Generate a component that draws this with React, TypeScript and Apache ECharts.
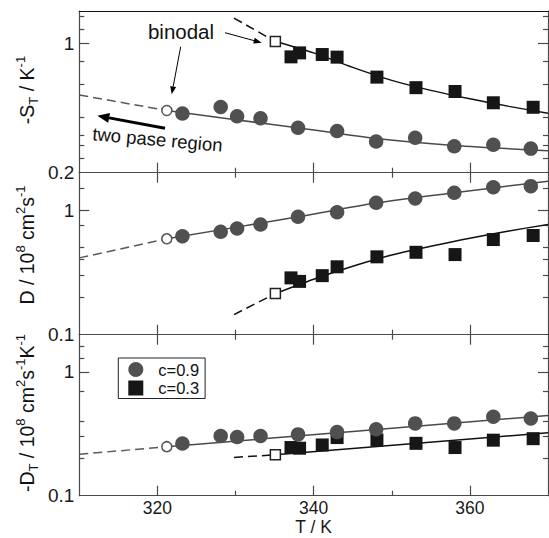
import React, { useEffect, useRef } from 'react';
import * as echarts from 'echarts';

const FONT = '"Liberation Sans", Arial, Helvetica, sans-serif';

// ---------- axes ----------
const X_MIN = 310;
const X_MAX = 370;
const X_MAJOR = [320, 340, 360];
const X_MINOR = [330, 350];

const Y_RANGE_ST = [0.2, 1.5];
const Y_RANGE_D = [0.1, 2];
const Y_RANGE_DT = [0.1, 2];
const Y_LABELS_ST = [0.2, 1];
const Y_LABELS_D = [0.1, 1];
const Y_LABELS_DT = [0.1, 1];
const Y_MAJOR = [1];
const Y_MINOR_ST = [0.24, 0.28, 0.32, 0.4, 0.6, 0.8, 1.2, 1.4];
const Y_MINOR_D = [0.2, 0.3, 0.4, 0.5, 0.75, 1.5];
const Y_MINOR_DT = [0.2, 0.3, 0.4, 0.7, 1.3, 1.6];

// ---------- data: temperatures (K) ----------
const T_C = [323.2, 328.1, 330.2, 333.2, 338.0, 343.0, 348.0, 353.0, 358.0, 363.0, 367.8];
const T_S = [337.1, 338.2, 341.1, 343.0, 348.1, 353.1, 358.1, 363.0, 368.1];
const T_BIN_C = 321.2;
const T_BIN_S = 335.1;

// ---------- -S_T / K^-1 ----------
const ST_C = [0.418, 0.454, 0.404, 0.394, 0.35, 0.336, 0.295, 0.309, 0.278, 0.283, 0.27];
const ST_S = [0.847, 0.89, 0.872, 0.844, 0.658, 0.577, 0.55, 0.478, 0.452];
const ST_BIN_C = 0.434;
const ST_BIN_S = 1.026;
const ST_FIT_C_DASH = [[310, 0.527], [321.2, 0.434]];
const ST_FIT_C = [[321.2, 0.434], [330, 0.387], [338.4, 0.348], [348, 0.306], [358, 0.281], [370, 0.263]];
const ST_FIT_S_DASH = [[329.8, 1.373], [335.1, 1.026]];
const ST_FIT_S = [[335.1, 1.026], [340, 0.89], [345, 0.743], [350, 0.632], [355, 0.558], [360, 0.502], [365, 0.457], [370, 0.42]];

// ---------- D / 10^8 cm^2 s^-1 ----------
const D_C = [0.618, 0.67, 0.713, 0.767, 0.885, 0.963, 1.147, 1.242, 1.38, 1.53, 1.56];
const D_S = [0.286, 0.268, 0.298, 0.351, 0.422, 0.459, 0.44, 0.581, 0.626];
const D_BIN_C = 0.589;
const D_BIN_S = 0.214;
const D_FIT_C_DASH = [[310, 0.414], [321.2, 0.589]];
const D_FIT_C = [[321.2, 0.589], [338, 0.885], [348, 1.14], [358, 1.38], [370, 1.71]];
const D_FIT_S_DASH = [[329.8, 0.145], [335.1, 0.214]];
const D_FIT_S = [[335.1, 0.214], [340, 0.279], [345, 0.355], [350, 0.437], [355, 0.513], [360, 0.596], [365, 0.681], [370, 0.767]];

// ---------- -D_T / 10^8 cm^2 s^-1 K^-1 ----------
const DT_C = [0.264, 0.304, 0.298, 0.304, 0.313, 0.327, 0.344, 0.384, 0.384, 0.435, 0.421];
const DT_S = [0.245, 0.242, 0.257, 0.295, 0.282, 0.265, 0.245, 0.281, 0.289];
const DT_BIN_C = 0.249;
const DT_BIN_S = 0.214;
const DT_FIT_C_DASH = [[310, 0.216], [321.2, 0.249]];
const DT_FIT_C = [[321.2, 0.249], [345, 0.33], [370, 0.445]];
const DT_FIT_S_DASH = [[329.8, 0.204], [335.1, 0.214]];
const DT_FIT_S = [[335.1, 0.214], [370, 0.323]];

const LEGEND_C = 'c=0.9';
const LEGEND_S = 'c=0.3';

// ---------- layout / style ----------
const GRID_TOPS = [11, 172.7, 334.7];
const GRID_HEIGHTS = [161.7, 162, 161];
const GRID_LEFT = 79.3;
const GRID_RIGHT = 1;

const C_GRAY = '#505050';
const C_BLACK = '#161616';
const AX_COLOR = '#4a4a4a';

const panels = [
  { range: Y_RANGE_ST, labels: Y_LABELS_ST, minor: Y_MINOR_ST, c: ST_C, s: ST_S, binC: ST_BIN_C, binS: ST_BIN_S, fcd: ST_FIT_C_DASH, fc: ST_FIT_C, fsd: ST_FIT_S_DASH, fs: ST_FIT_S },
  { range: Y_RANGE_D, labels: Y_LABELS_D, minor: Y_MINOR_D, c: D_C, s: D_S, binC: D_BIN_C, binS: D_BIN_S, fcd: D_FIT_C_DASH, fc: D_FIT_C, fsd: D_FIT_S_DASH, fs: D_FIT_S },
  { range: Y_RANGE_DT, labels: Y_LABELS_DT, minor: Y_MINOR_DT, c: DT_C, s: DT_S, binC: DT_BIN_C, binS: DT_BIN_S, fcd: DT_FIT_C_DASH, fc: DT_FIT_C, fsd: DT_FIT_S_DASH, fs: DT_FIT_S },
];

function arrow(x1: number, y1: number, x2: number, y2: number, w: number, hl: number, hw: number) {
  const dx = x2 - x1, dy = y2 - y1;
  const len = Math.sqrt(dx * dx + dy * dy);
  const ux = dx / len, uy = dy / len;
  const bx = x2 - ux * hl, by = y2 - uy * hl;
  const px = -uy * hw, py = ux * hw;
  return [
    { type: 'line', silent: true, shape: { x1, y1, x2: bx, y2: by }, style: { stroke: '#000', lineWidth: w } },
    { type: 'polygon', silent: true, shape: { points: [[x2, y2], [bx + px, by + py], [bx - px, by - py]] }, style: { fill: '#000' } },
  ];
}

const RICH = {
  a: { fontSize: 19.5, fontFamily: FONT, fill: '#111', lineHeight: 26 },
  sup: { fontSize: 13, fontFamily: FONT, fill: '#111', lineHeight: 13, verticalAlign: 'top' },
  sub: { fontSize: 13, fontFamily: FONT, fill: '#111', lineHeight: 13, verticalAlign: 'bottom' },
};

function buildOption() {
  const grid: any[] = [];
  const xAxis: any[] = [];
  const yAxis: any[] = [];
  const series: any[] = [];

  panels.forEach((p, i) => {
    grid.push({ left: GRID_LEFT, right: GRID_RIGHT, top: GRID_TOPS[i], height: GRID_HEIGHTS[i], outerBoundsMode: 'none', containLabel: false });
    const isBottom = i === 2;
    const baseX = {
      type: 'value', gridIndex: i, min: X_MIN, max: X_MAX,
      splitLine: { show: false },
      axisLine: { show: false, onZero: false },
      axisLabel: { show: false },
    };
    xAxis.push({
      ...baseX, position: 'bottom',
      axisLine: { show: true, onZero: false, lineStyle: { color: AX_COLOR, width: 1.2 } },
      axisTick: { show: true, inside: true, length: 10, customValues: X_MAJOR, lineStyle: { color: AX_COLOR, width: 1.2 } },
      axisLabel: isBottom ? { show: true, customValues: X_MAJOR, fontSize: 17.5, fontFamily: FONT, color: '#1a1a1a', margin: 3 } : { show: false },
      name: isBottom ? 'T / K' : '',
      nameLocation: 'middle', nameGap: 22.5, nameMoveOverlap: false,
      nameTextStyle: { fontSize: 17.5, fontFamily: FONT, color: '#1a1a1a' },
    });
    xAxis.push({
      ...baseX, position: 'bottom',
      axisTick: { show: true, inside: true, length: 5, customValues: X_MINOR, lineStyle: { color: AX_COLOR, width: 1.2 } },
    });
    xAxis.push({
      ...baseX, position: 'top',
      axisLine: { show: true, onZero: false, lineStyle: { color: i === 0 ? '#111' : AX_COLOR, width: 1.2 } },
      axisTick: { show: i > 0, inside: true, length: 10, customValues: X_MAJOR, lineStyle: { color: AX_COLOR, width: 1.2 } },
    });
    xAxis.push({
      ...baseX, position: 'top',
      axisTick: { show: i > 0, inside: true, length: 5, customValues: X_MINOR, lineStyle: { color: AX_COLOR, width: 1.2 } },
    });

    const baseY = {
      type: 'log', logBase: 10, gridIndex: i, min: p.range[0], max: p.range[1],
      splitLine: { show: false },
      axisLine: { show: false, onZero: false },
      axisLabel: { show: false },
    };
    ['left', 'right'].forEach((pos) => {
      yAxis.push({
        ...baseY, position: pos,
        axisLine: { show: true, onZero: false, lineStyle: { color: AX_COLOR, width: 1.2 } },
        axisTick: { show: true, inside: true, length: 10, customValues: Y_MAJOR, lineStyle: { color: AX_COLOR, width: 1.2 } },
        axisLabel: pos === 'left' ? { show: true, customValues: p.labels, fontSize: 19, fontFamily: FONT, color: '#1a1a1a', margin: 5 } : { show: false },
      });
      yAxis.push({
        ...baseY, position: pos,
        axisTick: { show: true, inside: true, length: 5, customValues: p.minor, lineStyle: { color: AX_COLOR, width: 1.2 } },
      });
    });

    const xi = i * 4;
    const yi = i * 4;
    const common = { xAxisIndex: xi, yAxisIndex: yi, silent: true, animation: false };
    const lineS = (data: number[][], color: string, dashed: boolean, name: string) => ({
      ...common, type: 'line', name, data, showSymbol: false, symbol: 'none', smooth: data.length > 2 ? 0.3 : false, z: 2,
      lineStyle: { color, width: 1.5, type: dashed ? [9, 5] : 'solid' },
    });
    series.push(lineS(p.fcd, '#5a5a5a', true, 'fitCd' + i));
    series.push(lineS(p.fc, '#4a4a4a', false, 'fitC' + i));
    series.push(lineS(p.fsd, '#111', true, 'fitSd' + i));
    series.push(lineS(p.fs, '#111', false, 'fitS' + i));
    series.push({
      ...common, type: 'scatter', name: LEGEND_S, symbol: 'rect', symbolSize: 13, z: 3,
      itemStyle: { color: C_BLACK, opacity: 1 },
      data: T_S.map((t, k) => [t, p.s[k]]),
    });
    series.push({
      ...common, type: 'scatter', name: LEGEND_C, symbol: 'circle', symbolSize: 14.5, z: 4,
      itemStyle: { color: C_GRAY, opacity: 1 },
      data: T_C.map((t, k) => [t, p.c[k]]),
    });
    series.push({
      ...common, type: 'scatter', name: 'binC' + i, symbol: 'circle', symbolSize: 10, z: 5,
      itemStyle: { color: '#fff', borderColor: '#555', borderWidth: 1.5, opacity: 1 },
      data: [[T_BIN_C, p.binC]],
    });
    series.push({
      ...common, type: 'scatter', name: 'binS' + i, symbol: 'rect', symbolSize: 10, z: 5,
      itemStyle: { color: '#fff', borderColor: '#222', borderWidth: 1.5, opacity: 1 },
      data: [[T_BIN_S, p.binS]],
    });
  });

  const graphic: any[] = [
    { type: 'text', silent: true, x: 181, y: 31.5, style: { text: 'binodal', font: `20.5px ${FONT}`, fill: '#111', align: 'center', verticalAlign: 'middle' } },
    ...arrow(180.7, 46.7, 171.7, 94.3, 1, 8, 3),
    ...arrow(225, 32.7, 261.7, 42.7, 1, 8, 3),
    ...arrow(165, 128.3, 97.3, 115.7, 3, 12, 5),
    { type: 'text', silent: true, x: 157.5, y: 139.5, rotation: -0.089, style: { text: 'two pase region', font: `18.5px ${FONT}`, fill: '#111', align: 'center', verticalAlign: 'middle' } },
    { type: 'text', silent: true, x: 27, y: 90, rotation: Math.PI / 2, style: { text: '{a|-S}{sub|T}{a| / K}{sup|-1}', rich: RICH, align: 'center', verticalAlign: 'middle' } },
    { type: 'text', silent: true, x: 27, y: 245, rotation: Math.PI / 2, style: { text: '{a|D / 10}{sup|8}{a| cm}{sup|2}{a|s}{sup|-1}', rich: RICH, align: 'center', verticalAlign: 'middle' } },
    { type: 'text', silent: true, x: 27, y: 413, rotation: Math.PI / 2, style: { text: '{a|-D}{sub|T}{a| / 10}{sup|8}{a| cm}{sup|2}{a|s}{sup|-1}{a|K}{sup|-1}', rich: RICH, align: 'center', verticalAlign: 'middle' } },
  ];

  return {
    animation: false,
    backgroundColor: '#fff',
    grid,
    xAxis,
    yAxis,
    series,
    graphic,
    legend: {
      show: true,
      orient: 'vertical',
      left: 118.3,
      top: 358,
      selectedMode: false,
      itemWidth: 15,
      itemHeight: 15,
      itemGap: 1.5,
      padding: [3, 6, 2, 10],
      borderColor: '#222',
      borderWidth: 1,
      backgroundColor: '#fff',
      textStyle: { fontSize: 16.5, fontFamily: FONT, color: '#111', padding: [0, 0, 0, 10], lineHeight: 17 },
      data: [
        { name: LEGEND_C, icon: 'circle' },
        { name: LEGEND_S, icon: 'rect' },
      ],
    },
  };
}

export default function App() {
  const ref = useRef<HTMLDivElement>(null);
  useEffect(() => {
    if (!ref.current) return;
    const chart = echarts.init(ref.current, null, { renderer: 'svg' });
    chart.setOption(buildOption() as any);
    return () => chart.dispose();
  }, []);
  return <div ref={ref} style={{ position: 'absolute', left: 0, top: 0, width: 549, height: 538, background: '#fff' }} />;
}
